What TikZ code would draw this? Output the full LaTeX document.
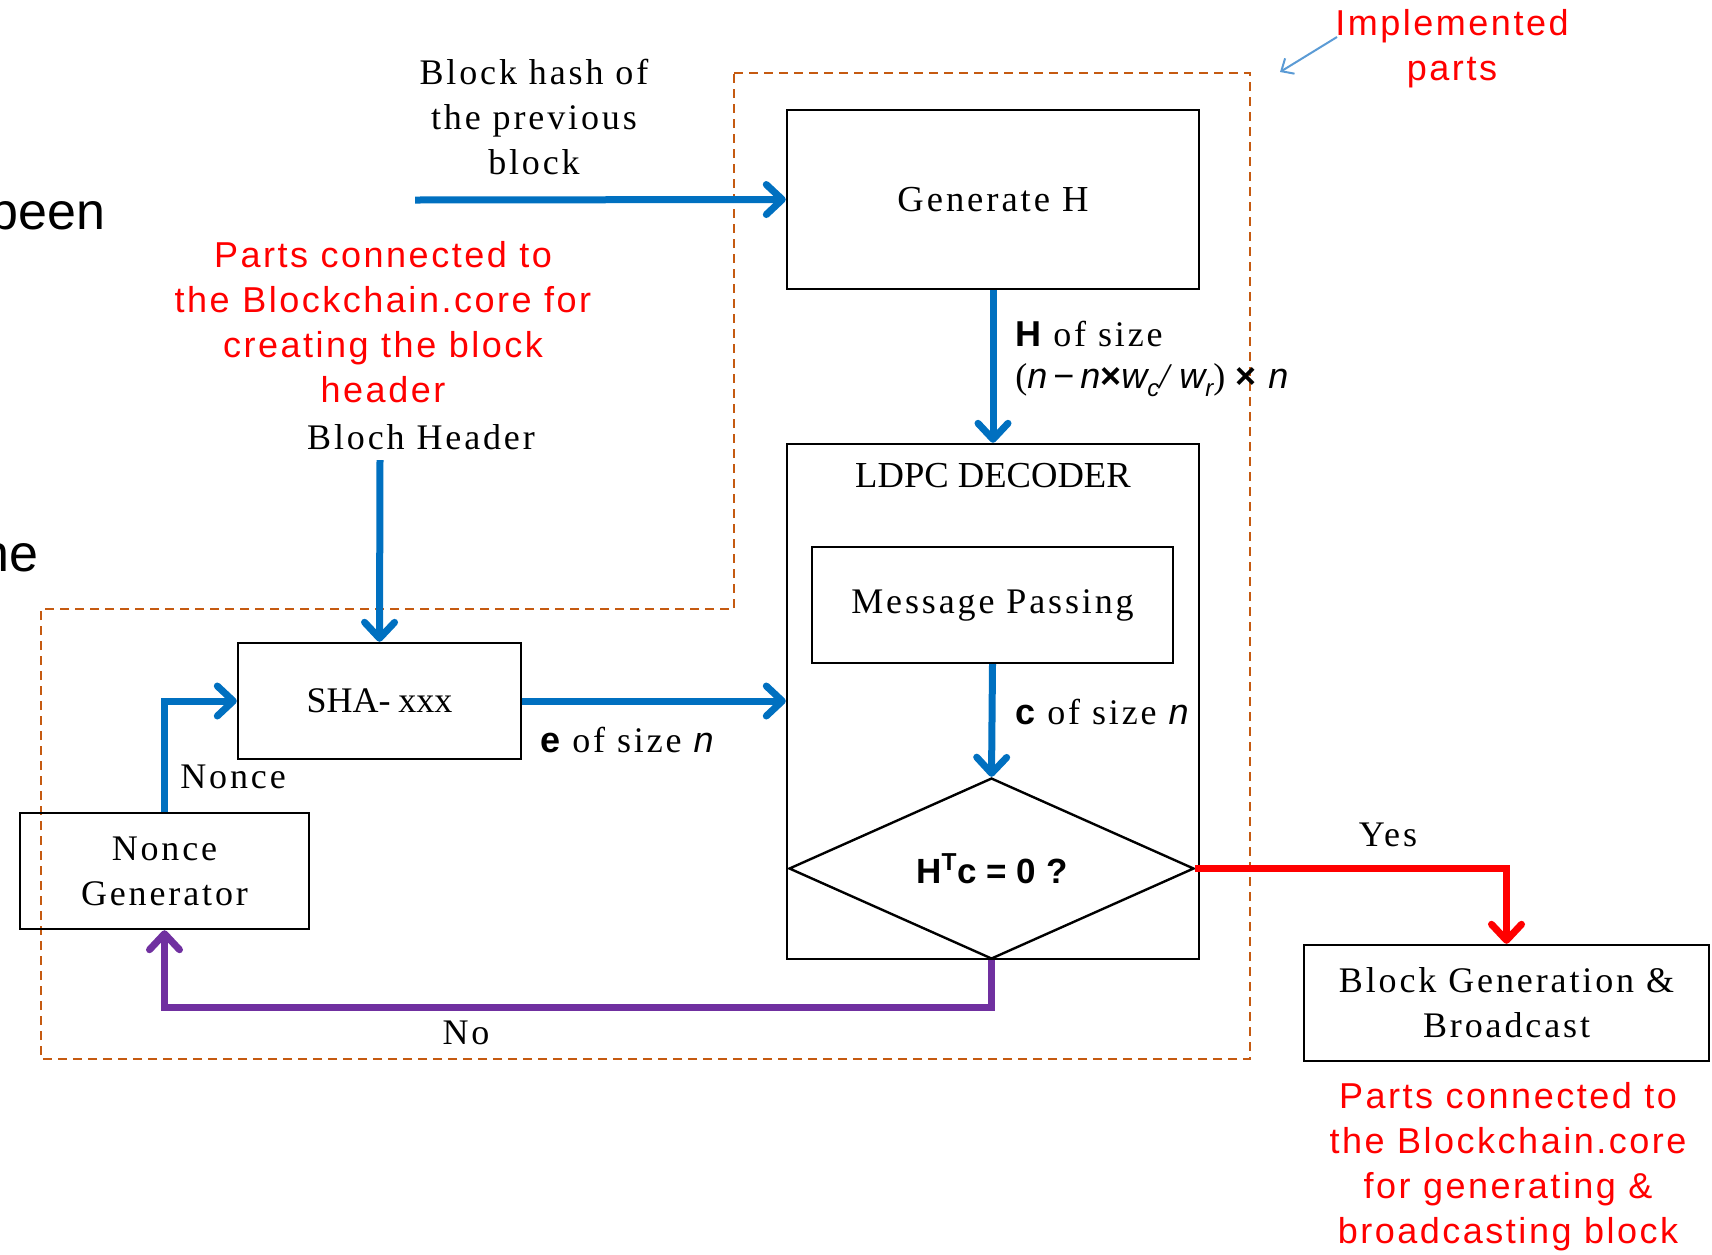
\documentclass[tikz,border=0pt]{standalone}
\usepackage{fontspec}
\setmainfont{Liberation Serif}[LetterSpace=8]
\newfontfamily\plainserif{Liberation Serif}
\newfontfamily\sansA{Liberation Sans}[LetterSpace=7]
\newfontfamily\sansB{Liberation Sans}
\usetikzlibrary{arrows.meta,shapes.geometric}
\definecolor{cblue}{RGB}{0,112,192}
\definecolor{cred}{RGB}{255,0,0}
\definecolor{cpurple}{RGB}{112,48,160}
\definecolor{corange}{RGB}{197,90,17}
\definecolor{clblue}{RGB}{91,155,213}
\newcommand{\tsz}{\fontsize{18}{22.5}\selectfont}
\newcommand{\sub}[1]{\raisebox{-4pt}{\fontsize{12}{12}\selectfont\sansB\itshape #1}}
\begin{document}
\begin{tikzpicture}[x=0.5pt,y=-0.5pt,
  box/.style={draw=black,line width=1.2pt,inner sep=0pt,align=center,font=\tsz},
  flow/.style={line width=3.5pt,-{Straight Barb[length=8pt,width=15pt,round]}},
  lbl/.style={inner sep=0pt,font=\tsz,align=center},
  redlbl/.style={inner sep=0pt,font=\tsz\sansA,text=cred,align=center},
]
\useasboundingbox (0,0) rectangle (1712,1254);
% dashed region
\draw[corange,line width=1.2pt,dash pattern=on 4.5pt off 3pt]
  (734,73) -- (1250,73) -- (1250,1059) -- (41,1059) -- (41,609) -- (734,609) -- cycle;
% boxes
\node[box,minimum width=206pt,minimum height=89.5pt,font=\fontsize{18.3}{22.5}\selectfont] (gen) at (993,199.5) {Generate H};
\node[box,minimum width=206pt,minimum height=257.5pt] (ldpc) at (993,701.5) {};
\node[lbl,font=\fontsize{18.3}{22.5}\selectfont\plainserif] (ldpct) at (993,476) {LDPC DECODER};
\node[box,minimum width=180.5pt,minimum height=58pt] (msg) at (992.5,605) {Message Passing};
\node[box,diamond,shape aspect=2.24,minimum width=202.5pt,minimum height=90.5pt] (dia) at (991.5,868.5) {};
\node[lbl,font=\fontsize{17.5}{22}\selectfont\sansB\bfseries] (diat) at (992,868.5) {H\textsuperscript{T}c = 0 ?};
\node[box,minimum width=141.5pt,minimum height=58pt] (sha) at (379.5,701) {{\plainserif SHA-}\kern4pt{\plainserif xxx}};
\node[box,minimum width=144.5pt,minimum height=58pt] (nonce) at (164.5,871) {Nonce\\Generator};
\node[box,minimum width=202.5pt,minimum height=58pt] (blk) at (1506.5,1003) {Block Generation \&\\Broadcast};
% texts
\node[lbl] (bhash) at (534,117) {Block hash of\\the previous\\block};
\node[lbl,anchor=base east,font=\fontsize{26}{30}\selectfont\sansB] (been) at (106,229) {been};
\node[lbl,anchor=base east,font=\fontsize{26}{30}\selectfont\sansB] (ne) at (39,571) {ne};
\node[redlbl] (red1) at (383,322.5) {Parts connected to\\the Blockchain.core for\\creating the block\\header};
\node[lbl] (bhead) at (421,437) {Bloch Header};
\node[lbl,anchor=west] (hsize) at (1015,334) {{\sansB\bfseries H} of size};
\node[lbl,anchor=west] (hexpr) at (1015,380) {{\plainserif(}{\sansB\itshape n}\kern3pt{\sansB −}\kern3pt{\sansB\itshape n}{\sansB\bfseries ×}{\sansB\itshape w}\sub{c}{\plainserif\itshape /}\kern5pt{\sansB\itshape w}\sub{r}{\plainserif)}\kern5pt{\sansB\bfseries ×}\kern6pt{\sansB\itshape n}};
\node[lbl,anchor=west] (csize) at (1015,712) {{\sansB\bfseries c} of size {\sansB\itshape n}};
\node[lbl,anchor=west] (esize) at (540,740) {{\sansB\bfseries e} of size {\sansB\itshape n}};
\node[lbl,anchor=west] (noncel) at (180,777) {Nonce};
\node[lbl] (nol) at (466,1033) {No};
\node[lbl] (yesl) at (1388,835) {Yes};
\node[redlbl] (impl) at (1452,49) {Implemented\\parts};
\node[redlbl] (red2) at (1508,1167) {Parts connected to\\the Blockchain.core\\for generating \&\\broadcasting block};
% connectors
\coordinate (topstart) at (415,200);
\coordinate (hdrstart) at (380,460);
\coordinate (implarrow) at (1280,72);
\draw[flow,cblue] (topstart) -- (gen.west);
\draw[flow,cblue] (hdrstart) -- (sha.north);
\draw[flow,cblue] (gen.south) -- (ldpc.north);
\draw[flow,cblue] (msg.south) -- (dia.north);
\draw[flow,cblue] (sha.east) -- (sha.east -| ldpc.west);
\draw[flow,cblue] (nonce.north) |- (sha.west);
\draw[flow,cpurple] (dia.south) -- ++(0,47) -| (nonce.south);
\draw[flow,cred] (dia.east) -| (blk.north);
\draw[clblue,line width=1pt,-{Straight Barb[length=5pt,width=9pt]}] (1337,37) -- (implarrow);
\end{tikzpicture}
\end{document}
